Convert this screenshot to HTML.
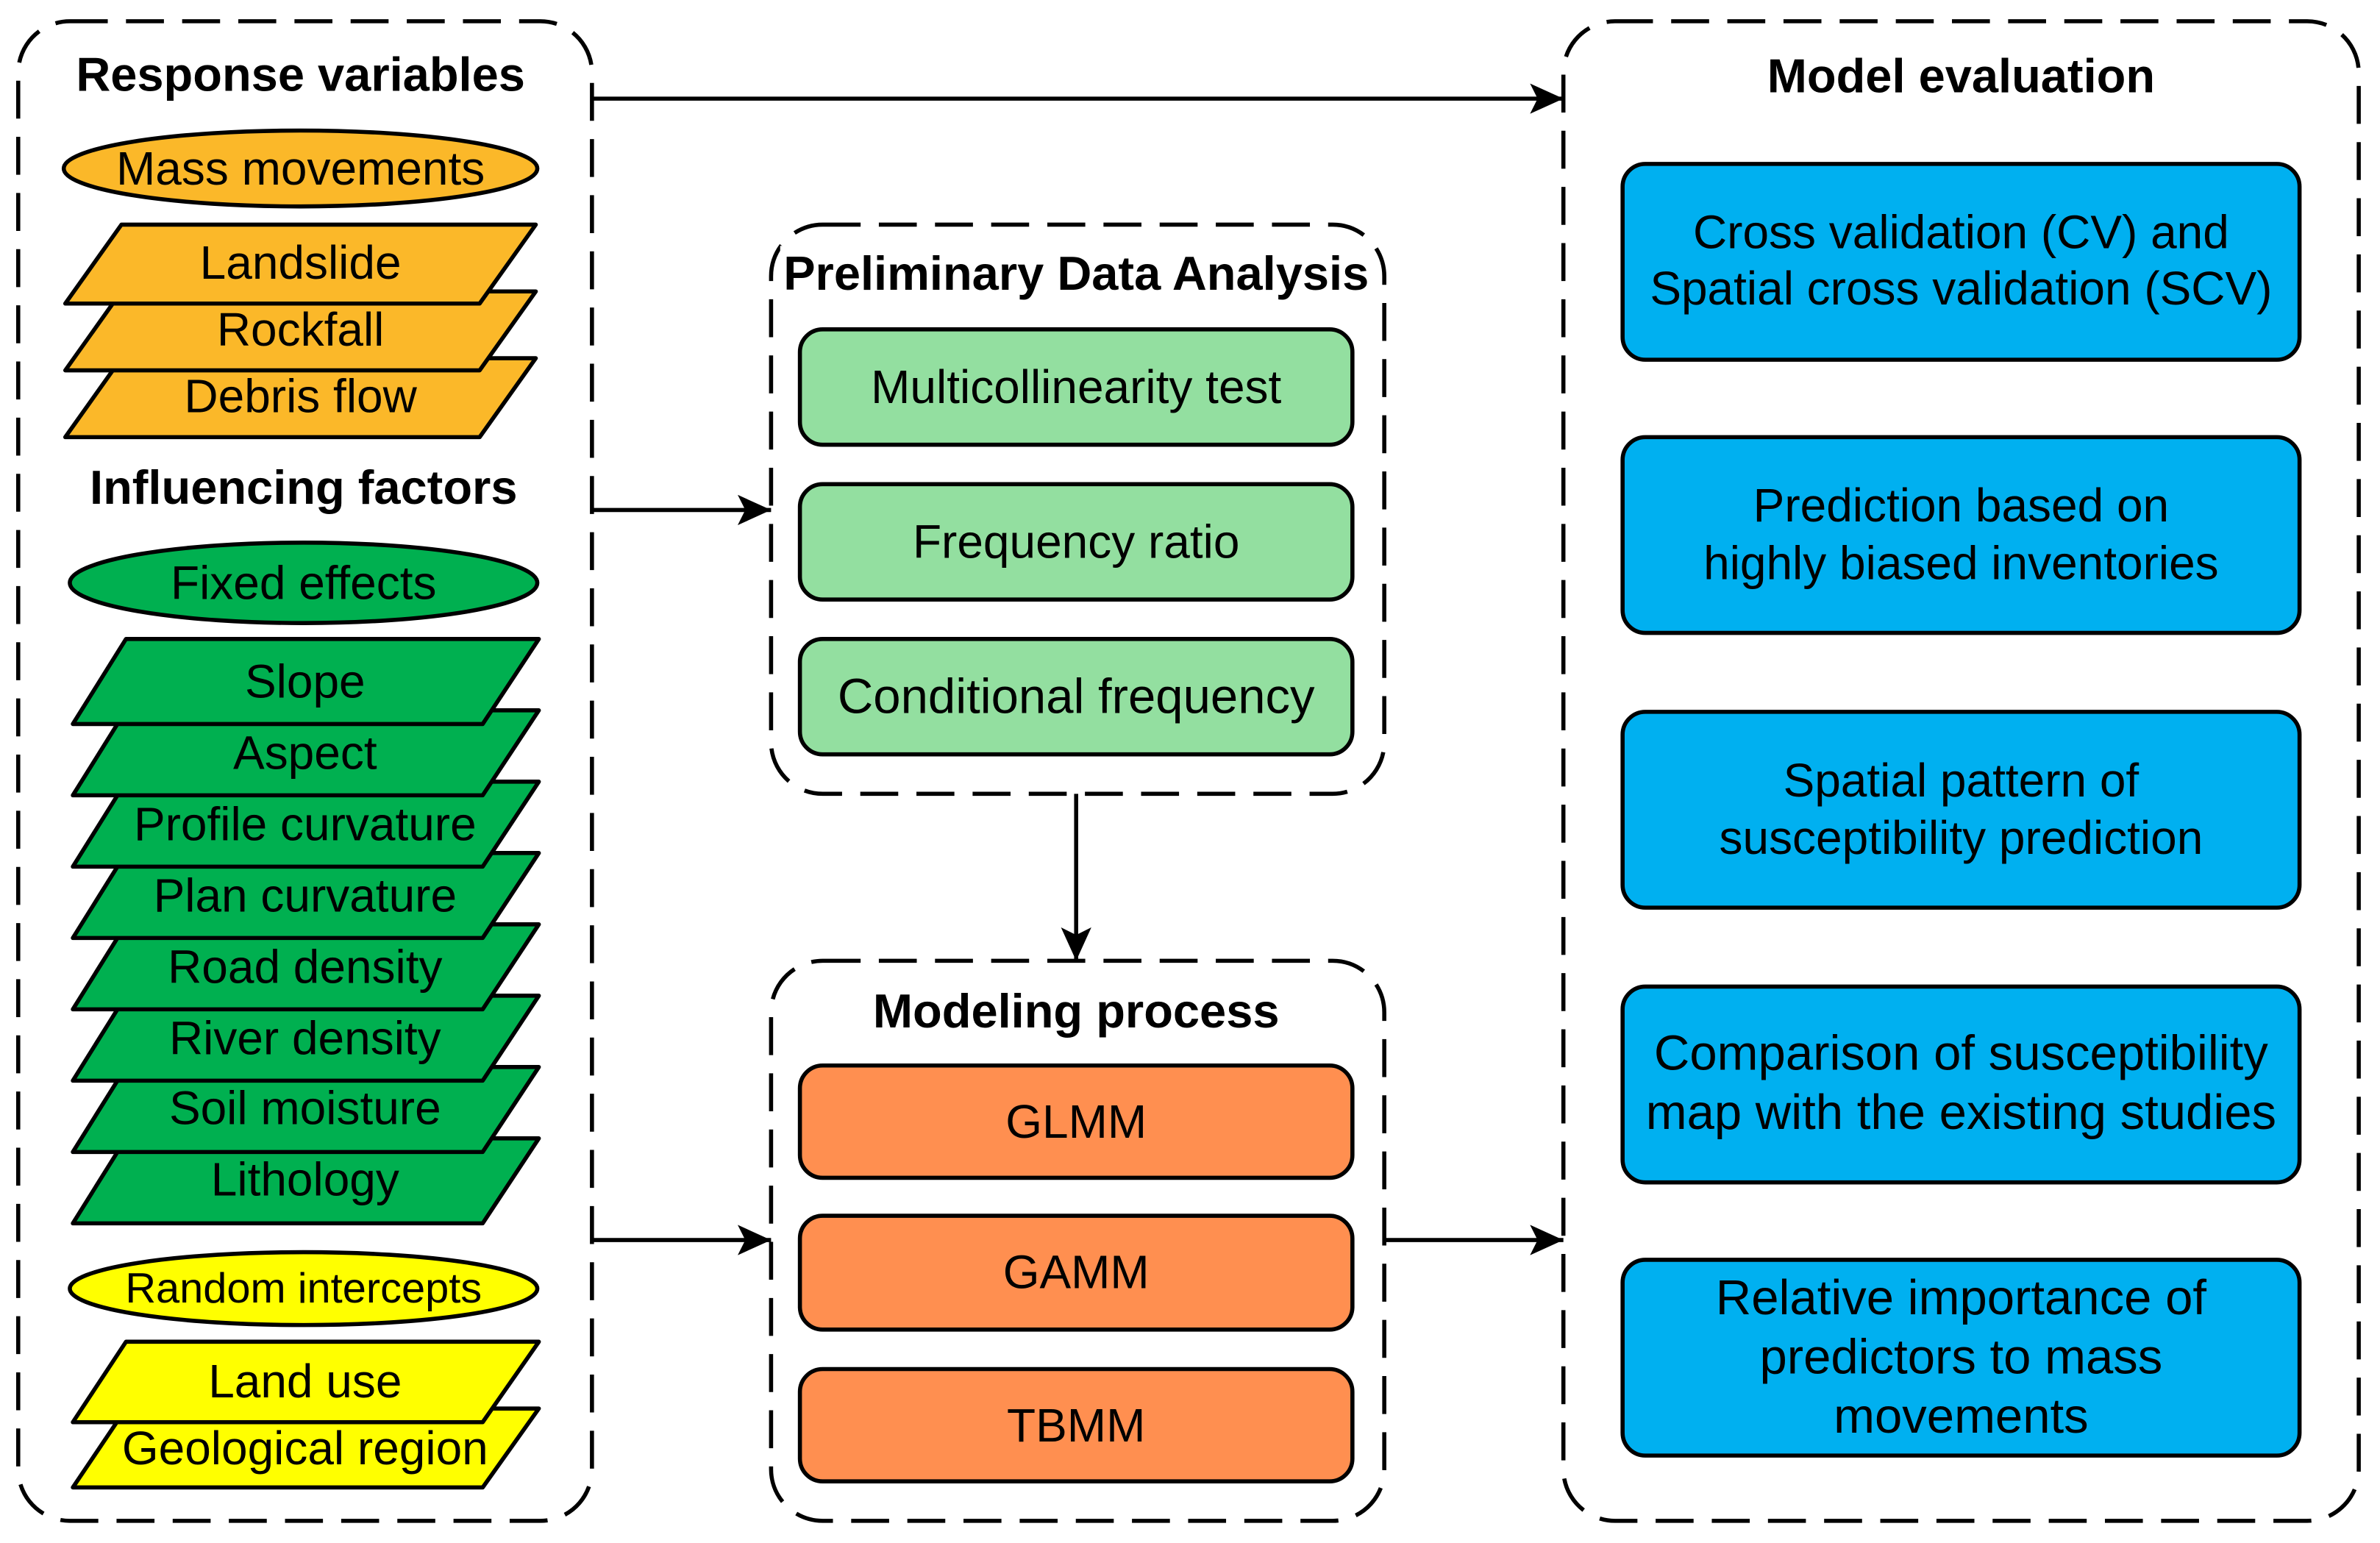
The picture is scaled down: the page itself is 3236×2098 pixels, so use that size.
<!DOCTYPE html>
<html><head><meta charset="utf-8"><style>
html,body{margin:0;padding:0;background:#fff;}
svg{display:block;}
text{font-family:"Liberation Sans",Arial,sans-serif;text-anchor:middle;dominant-baseline:central;fill:#000;}
.b{font-weight:bold;font-size:31.5px;}
.t{font-size:31px;}
.u{font-size:32.5px;}
.d{fill:none;stroke:#000;stroke-width:2.7;stroke-dasharray:25 12;}
.s{stroke:#000;stroke-width:2.7;stroke-linejoin:round;}
</style></head><body>
<svg width="3236" height="2098" viewBox="0 0 1568 1016.6" preserveAspectRatio="none" xmlns="http://www.w3.org/2000/svg">
<defs>
<marker id="ah" markerWidth="22" markerHeight="20" refX="22" refY="10" orient="auto" markerUnits="userSpaceOnUse"><path d="M0,0 L22,10 L0,20 L5,10 z" fill="#000"/></marker></defs>

<rect class="d" x="12" y="14" width="378" height="988" rx="34"/>
<rect class="d" x="508" y="148" width="404" height="375" rx="34"/>
<rect class="d" x="508" y="633" width="404" height="369" rx="34"/>
<rect class="d" x="1030" y="14" width="524" height="988" rx="34"/>

<g stroke="#000" stroke-width="2.7" fill="none">
<line x1="390" y1="65" x2="1030" y2="65" marker-end="url(#ah)"/>
<line x1="390" y1="336" x2="508" y2="336" marker-end="url(#ah)"/>
<line x1="390" y1="817" x2="508" y2="817" marker-end="url(#ah)"/>
<line x1="912" y1="817" x2="1030" y2="817" marker-end="url(#ah)"/>
<line x1="709" y1="523" x2="709" y2="633" marker-end="url(#ah)"/>
</g>

<text class="b" x="198" y="49">Response variables</text>
<ellipse class="s" cx="198" cy="111" rx="156" ry="25" fill="#FBB829"/>
<text class="t" x="198" y="111">Mass movements</text>
<g fill="#FBB829" class="s">
<polygon points="43,288 80,236 353,236 316,288"/>
<polygon points="43,244 80,192 353,192 316,244"/>
<polygon points="43,200 80,148 353,148 316,200"/>
</g>
<text class="t" x="198" y="173">Landslide</text>
<text class="t" x="198" y="217">Rockfall</text>
<text class="t" x="198" y="261">Debris flow</text>

<text class="b" x="200" y="321">Influencing factors</text>
<ellipse class="s" cx="200" cy="384" rx="154" ry="26.5" fill="#00B050"/>
<text class="t" x="200" y="384">Fixed effects</text>
<g fill="#00B050" class="s">
<polygon points="48,806 83,750 355,750 318,806"/>
<polygon points="48,759 83,703 355,703 318,759"/>
<polygon points="48,712 83,656 355,656 318,712"/>
<polygon points="48,665 83,609 355,609 318,665"/>
<polygon points="48,618 83,562 355,562 318,618"/>
<polygon points="48,571 83,515 355,515 318,571"/>
<polygon points="48,524 83,468 355,468 318,524"/>
<polygon points="48,477 83,421 355,421 318,477"/>
</g>
<text class="t" x="201" y="449">Slope</text>
<text class="t" x="201" y="496">Aspect</text>
<text class="t" x="201" y="543">Profile curvature</text>
<text class="t" x="201" y="590">Plan curvature</text>
<text class="t" x="201" y="637">Road density</text>
<text class="t" x="201" y="684">River density</text>
<text class="t" x="201" y="730">Soil moisture</text>
<text class="t" x="201" y="777">Lithology</text>

<ellipse class="s" cx="200" cy="849" rx="154" ry="24" fill="#FFFF00"/>
<text x="200" y="849" style="font-size:28px">Random intercepts</text>
<g fill="#FFFF00" class="s">
<polygon points="48,980 83,928 355,928 318,980"/>
<polygon points="48,937 83,884 355,884 318,937"/>
</g>
<text class="t" x="201" y="910">Land use</text>
<text class="t" x="201" y="954">Geological region</text>

<rect x="514" y="162" width="390" height="38" fill="#fff"/>
<text class="b" x="709" y="180">Preliminary Data Analysis</text>
<g fill="#93DFA0" class="s">
<rect x="527" y="217" width="364" height="76" rx="15"/>
<rect x="527" y="319" width="364" height="76" rx="15"/>
<rect x="527" y="421" width="364" height="76" rx="15"/>
</g>
<text class="t" x="709" y="255">Multicollinearity test</text>
<text class="t" x="709" y="357">Frequency ratio</text>
<text class="u" x="709" y="459">Conditional frequency</text>

<text class="b" x="709" y="666">Modeling process</text>
<g fill="#FF8F50" class="s">
<rect x="527" y="702" width="364" height="74" rx="15"/>
<rect x="527" y="801" width="364" height="75" rx="15"/>
<rect x="527" y="902" width="364" height="74" rx="15"/>
</g>
<text class="t" x="709" y="739">GLMM</text>
<text class="t" x="709" y="838">GAMM</text>
<text class="t" x="709" y="939">TBMM</text>

<text class="b" x="1292" y="50">Model evaluation</text>
<g fill="#00B0F0" class="s">
<rect x="1069" y="108" width="446" height="129" rx="15"/>
<rect x="1069" y="288" width="446" height="129" rx="15"/>
<rect x="1069" y="469" width="446" height="129" rx="15"/>
<rect x="1069" y="650" width="446" height="129" rx="15"/>
<rect x="1069" y="830" width="446" height="129" rx="15"/>
</g>
<text class="t" x="1292" y="153">Cross validation (CV) and</text>
<text class="t" x="1292" y="190">Spatial cross validation (SCV)</text>
<text class="t" x="1292" y="333">Prediction based on</text>
<text class="t" x="1292" y="371">highly biased inventories</text>
<text class="t" x="1292" y="514">Spatial pattern of</text>
<text class="t" x="1292" y="552">susceptibility prediction</text>
<text class="u" x="1292" y="694">Comparison of susceptibility</text>
<text class="u" x="1292" y="733">map with the existing studies</text>
<text class="u" x="1292" y="855">Relative importance of</text>
<text class="u" x="1292" y="894">predictors to mass</text>
<text class="u" x="1292" y="933">movements</text>
</svg>
</body></html>
